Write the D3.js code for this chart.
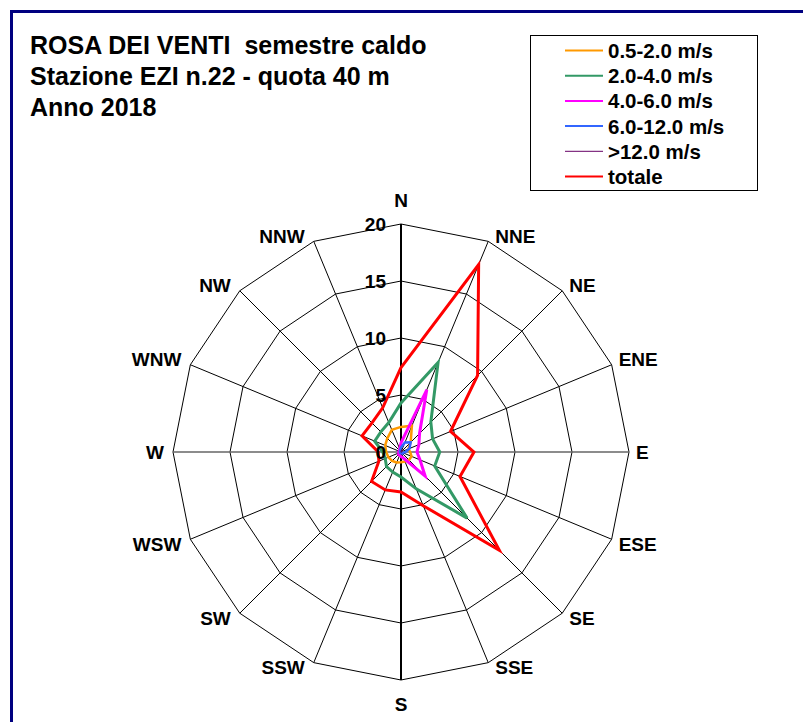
<!DOCTYPE html>
<html>
<head>
<meta charset="utf-8">
<script src="https://cdn.jsdelivr.net/npm/d3@7"></script>
<style>
  body { margin: 0; background: #fff; }
  svg { display: block; font-family: Arial, "Liberation Sans", Helvetica, sans-serif; }
  .title { white-space: pre; }
</style>
</head>
<body>
<div class="chart"></div>
<script>
    const width = 803;
    const height = 722;

    // directions, clockwise from north
    const directions = ["N","NNE","NE","ENE","E","ESE","SE","SSE","S","SSW","SW","WSW","W","WNW","NW","NNW"];
    const radial_ticks = [0, 5, 10, 15, 20];
    const title_lines = ["ROSA DEI VENTI  semestre caldo", "Stazione EZI n.22 - quota 40 m", "Anno 2018"];

    // frequencies (%) per speed class
    const speed_05_20 = [2.2, 2.5, 1.2, 0.7, 0.8, 1.0, 1.0, 0.9, 0.9, 1.0, 1.1, 1.2, 1.3, 1.5, 1.7, 2.1];
    const speed_20_40 = [4.3, 8.5, 3.7, 3.0, 3.4, 3.2, 8.2, 3.5, 2.2, 1.9, 1.8, 1.5, 1.6, 2.5, 2.5, 2.8];
    const speed_40_60 = [0.8, 5.9, 2.3, 1.7, 1.4, 1.8, 3.0, 0.6, 0.4, 0.3, 0.3, 0.2, 0.2, 0.2, 0.2, 0.3];
    const speed_60_120 = [0.4, 0.9, 1.2, 0.8, 0.4, 0.2, 0.2, 0.1, 0.1, 0.1, 0.1, 0.05, 0.05, 0.1, 0.1, 0.2];
    const speed_over_12 = [0.1, 0.2, 0.2, 0.1, 0.05, 0.05, 0.05, 0.02, 0.02, 0.02, 0.02, 0.02, 0.02, 0.02, 0.02, 0.05];
    const totale = [7.4, 17.8, 9.5, 4.7, 6.4, 5.6, 12.2, 5.1, 3.5, 3.6, 3.65, 2.1, 2.0, 3.7, 3.6, 4.2];

    const series_names = ["0.5-2.0 m/s", "2.0-4.0 m/s", "4.0-6.0 m/s", "6.0-12.0 m/s", ">12.0 m/s", "totale"];
    const series_values = [speed_05_20, speed_20_40, speed_40_60, speed_60_120, speed_over_12, totale];
    const series_colors = ["#FF9900", "#339966", "#FF00FF", "#3366FF", "#660066", "#FF0000"];
    const series_widths = [2.5, 3, 3, 2.5, 1, 3];

    const cx = 401, cy = 452;

    const svg = d3.select('.chart').append('svg')
        .attr('width', width).attr('height', height);

    svg.append('rect').attr('width', width).attr('height', height).attr('fill', '#fff');

    // outer frame (only top and left visible)
    svg.append('rect')
        .attr('x', 11.5).attr('y', 11.5)
        .attr('width', 1000).attr('height', 1000)
        .attr('fill', 'none')
        .attr('stroke', '#000080')
        .attr('stroke-width', 3);

    // title
    svg.append('g').selectAll('text')
        .data(title_lines)
        .enter().append('text')
          .attr('class', 'title')
          .attr('x', 30)
          .attr('y', (d, i) => 54 + i * 31)
          .attr('font-size', 25)
          .attr('font-weight', 'bold')
          .attr('fill', '#000')
          .text(d => d);

    const r = d3.scaleLinear().domain([0, 20]).range([0, 228]);
    const angle = d3.scaleLinear().domain([0, directions.length]).range([0, 2 * Math.PI]);

    const g = svg.append('g').attr('transform', `translate(${cx},${cy})`);

    // grid rings (16-gons)
    const ring = d3.lineRadial()
        .angle((d, i) => angle(i))
        .radius(d => r(d))
        .curve(d3.curveLinearClosed);

    g.selectAll('.ring')
      .data(radial_ticks.slice(1))
      .enter().append('path')
        .attr('class', 'ring')
        .attr('d', t => ring(directions.map(() => t)))
        .attr('fill', 'none')
        .attr('stroke', '#000')
        .attr('stroke-width', 1);

    // spokes
    g.selectAll('.spoke')
      .data(directions)
      .enter().append('line')
        .attr('class', 'spoke')
        .attr('x1', 0).attr('y1', 0)
        .attr('x2', (d, i) => r(20) * Math.sin(angle(i)))
        .attr('y2', (d, i) => -r(20) * Math.cos(angle(i)))
        .attr('stroke', (d, i) => (i === 4 || i === 12) ? '#666' : '#000')
        .attr('stroke-width', (d, i) => (i % 8 === 0) ? 2 : (i % 4 === 0 ? 1.5 : 1));

    // direction labels, placed just outside each outer vertex
    g.selectAll('.dir')
      .data(directions)
      .enter().append('text')
        .attr('class', 'dir')
        .attr('x', (d, i) => {
          const s = Math.sin(angle(i));
          const vx = r(20) * s;
          if (Math.abs(s) < 0.01) return vx;
          return vx + (s > 0 ? 7 : -9);
        })
        .attr('y', (d, i) => {
          const c = Math.cos(angle(i));
          const vy = -r(20) * c;
          if (Math.abs(c) > 0.99) return vy - c * 24;
          if (Math.abs(c) < 0.01) return vy;
          return vy + (c > 0 ? -5 : 5);
        })
        .attr('text-anchor', (d, i) => {
          const s = Math.sin(angle(i));
          if (Math.abs(s) < 0.01) return 'middle';
          return s > 0 ? 'start' : 'end';
        })
        .attr('dominant-baseline', 'central')
        .attr('font-size', 19)
        .attr('font-weight', 'bold')
        .text(d => d);

    // series
    const line = d3.lineRadial()
        .angle((d, i) => angle(i))
        .radius(d => r(d))
        .curve(d3.curveLinearClosed);

    g.selectAll('.series')
      .data(series_values)
      .enter().append('path')
        .attr('class', 'series')
        .attr('d', d => line(d))
        .attr('fill', 'none')
        .attr('stroke', (d, i) => series_colors[i])
        .attr('stroke-width', (d, i) => series_widths[i])
        .attr('stroke-linejoin', 'miter');

    // radial tick labels
    g.selectAll('.tick')
      .data(radial_ticks)
      .enter().append('text')
        .attr('class', 'tick')
        .attr('x', -15)
        .attr('y', t => -r(t))
        .attr('text-anchor', 'end')
        .attr('dominant-baseline', 'central')
        .attr('font-size', 19)
        .attr('font-weight', 'bold')
        .text(t => t);

    // legend
    const legend = svg.append('g');
    legend.append('rect')
        .attr('x', 530.5).attr('y', 35.5)
        .attr('width', 227).attr('height', 155)
        .attr('fill', '#fff')
        .attr('stroke', '#000')
        .attr('stroke-width', 1);

    const rows = legend.selectAll('.row')
      .data(series_names)
      .enter().append('g')
        .attr('transform', (d, i) => `translate(0,${50.5 + i * 25.2})`);
    rows.append('line')
        .attr('x1', 565).attr('x2', 603)
        .attr('stroke', (d, i) => series_colors[i])
        .attr('stroke-width', (d, i) => i === 4 ? 1 : 2);
    rows.append('text')
        .attr('x', 608)
        .attr('dominant-baseline', 'central')
        .attr('font-size', 20.5)
        .attr('font-weight', 'bold')
        .text(d => d);
</script>
</body>
</html>
